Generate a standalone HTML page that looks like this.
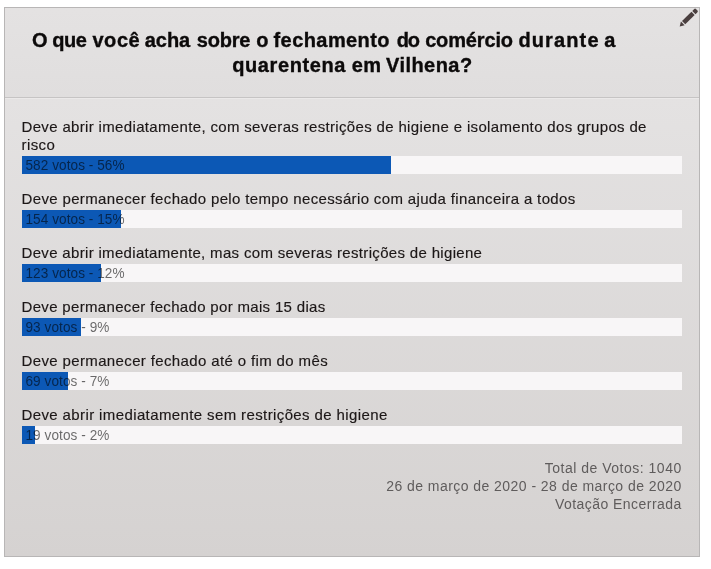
<!DOCTYPE html>
<html lang="pt-BR">
<head>
<meta charset="utf-8">
<title>Enquete</title>
<style>
html,body{margin:0;padding:0;background:#fff;}
body{width:711px;height:569px;overflow:hidden;position:relative;font-family:"Liberation Sans",Arial,sans-serif;}
#poll{position:absolute;left:4px;top:7px;width:694px;height:548px;border:1px solid #b8b6b6;
  background:linear-gradient(#e4e2e2 90px,#d5d2d1 548px);}
#head{position:absolute;left:0;top:0;width:694px;height:89px;border-bottom:1px solid #c6c4c4;
  background:linear-gradient(#e4e2e2,#e0dede);}
#head:after{content:"";position:absolute;left:0;right:0;top:90px;height:1px;background:#ebe9e9;}
.t{position:absolute;white-space:nowrap;font-weight:bold;font-size:20px;line-height:24px;color:#0c0a0a;-webkit-text-stroke:0.35px #0c0a0a;width:694px;height:24px;}
.t span{position:absolute;top:0;}
.l{position:absolute;left:16.5px;white-space:nowrap;font-size:15px;line-height:18px;color:#1c1717;-webkit-text-stroke:0.15px #1c1717;letter-spacing:0.31px;}
.track{position:absolute;left:17px;width:660px;height:18px;background:#f8f6f7;}
.fill{position:absolute;left:0;top:0;height:18px;background:#0c58b5;}
.v{position:absolute;left:3.5px;top:0;white-space:nowrap;font-size:13.6px;line-height:18px;color:rgba(0,0,0,0.58);letter-spacing:0.06px;transform:scaleY(1.09);transform-origin:0 4px;}
.f{position:absolute;right:17.3px;white-space:nowrap;font-size:14px;line-height:18px;color:#5f5c5c;letter-spacing:0.45px;text-align:right;transform:translateY(-0.4px);}
#pen{position:absolute;left:670px;top:-3px;width:26px;height:26px;}
</style>
</head>
<body>
<div id="poll">
  <div id="head">
    <div class="t" id="t1" style="left:0;top:20px;"><span style="left:27.05px;letter-spacing:0.0px">O</span> <span style="left:47.35px;letter-spacing:-0.5px">que</span> <span style="left:87.40px;letter-spacing:0.583px">você</span> <span style="left:139.80px;letter-spacing:-0.083px">acha</span> <span style="left:191.75px;letter-spacing:-0.187px">sobre</span> <span style="left:251.15px;letter-spacing:0.0px">o</span> <span style="left:268.55px;letter-spacing:0.417px">fechamento</span> <span style="left:391.65px;letter-spacing:-1.0px">do</span> <span style="left:420.15px;letter-spacing:-0.144px">comércio</span> <span style="left:513.45px;letter-spacing:1.126px">durante</span> <span style="left:599.30px;letter-spacing:0.0px">a</span></div>
    <div class="t" id="t2" style="left:0;top:45px;"><span style="left:227.15px;letter-spacing:0.612px">quarentena</span> <span style="left:346.85px;letter-spacing:0.25px">em</span> <span style="left:380.95px;letter-spacing:0.464px">Vilhena?</span></div>
    <svg id="pen" viewBox="675 5 26 26"><g transform="translate(680 26.2) rotate(-44.5)" fill="#4a3f3f"><path d="M-0.4 0 L3.9 -2.6 L3.9 2.6 Z"/><rect x="5.1" y="-2.3" width="13.2" height="4.6"/><path d="M19.5 -2.3 L22.2 -2.3 Q23.4 -2.3 23.4 -1.1 L23.4 1.1 Q23.4 2.3 22.2 2.3 L19.5 2.3 Z"/></g></svg>
  </div>
  <div class="l" id="l1a" style="top:110px;letter-spacing:0.339px;">Deve abrir imediatamente, com severas restrições de higiene e isolamento dos grupos de</div>
  <div class="l" id="l1b" style="top:128px;letter-spacing:0.4px;">risco</div>
  <div class="track" style="top:148px;"><div class="fill" style="width:369px;"></div><div class="v">582 votos - 56%</div></div>

  <div class="l" id="l2" style="top:182px;letter-spacing:0.355px;">Deve permanecer fechado pelo tempo necessário com ajuda financeira a todos</div>
  <div class="track" style="top:202px;"><div class="fill" style="width:99px;"></div><div class="v">154 votos - 15%</div></div>

  <div class="l" id="l3" style="top:236px;letter-spacing:0.327px;">Deve abrir imediatamente, mas com severas restrições de higiene</div>
  <div class="track" style="top:256px;"><div class="fill" style="width:79px;"></div><div class="v">123 votos - 12%</div></div>

  <div class="l" id="l4" style="top:290px;letter-spacing:0.328px;">Deve permanecer fechado por mais 15 dias</div>
  <div class="track" style="top:310px;"><div class="fill" style="width:59px;"></div><div class="v">93 votos - 9%</div></div>

  <div class="l" id="l5" style="top:344px;letter-spacing:0.367px;">Deve permanecer fechado até o fim do mês</div>
  <div class="track" style="top:364px;"><div class="fill" style="width:46px;"></div><div class="v">69 votos - 7%</div></div>

  <div class="l" id="l6" style="top:398px;letter-spacing:0.386px;">Deve abrir imediatamente sem restrições de higiene</div>
  <div class="track" style="top:418px;"><div class="fill" style="width:13px;"></div><div class="v">19 votos - 2%</div></div>

  <div class="f" id="f1" style="top:451px;letter-spacing:0.5px;">Total de Votos: 1040</div>
  <div class="f" id="f2" style="top:469px;">26 de março de 2020 - 28 de março de 2020</div>
  <div class="f" id="f3" style="top:487px;">Votação Encerrada</div>
</div>
</body>
</html>
